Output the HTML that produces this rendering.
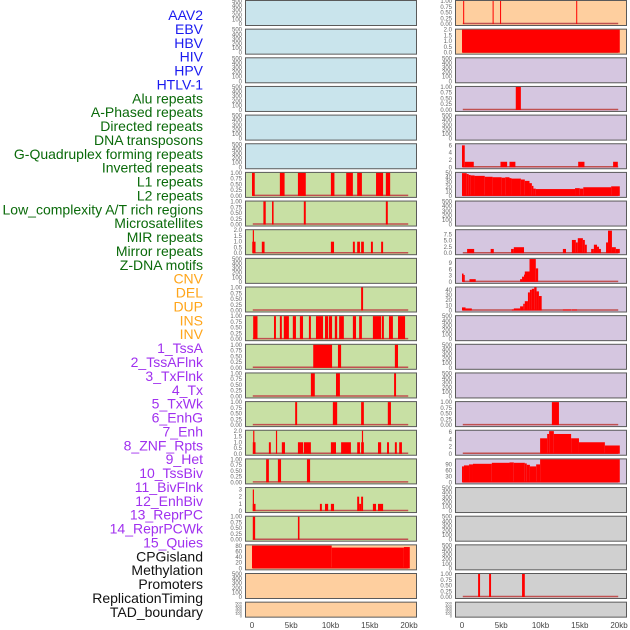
<!DOCTYPE html>
<html><head><meta charset="utf-8">
<style>
html,body{margin:0;padding:0;background:#fff;width:630px;height:630px;overflow:hidden}
svg{display:block;font-family:"Liberation Sans",sans-serif}
</style></head>
<body>
<svg id="chart" width="630" height="630" viewBox="0 0 630 630"></svg>
<script>
const trackLabels = ["AAV2","EBV","HBV","HIV","HPV","HTLV-1","Alu repeats","A-Phased repeats","Directed repeats","DNA transposons","G-Quadruplex forming repeats","Inverted repeats","L1 repeats","L2 repeats","Low_complexity A/T rich regions","Microsatellites","MIR repeats","Mirror repeats","Z-DNA motifs","CNV","DEL","DUP","INS","INV","1_TssA","2_TssAFlnk","3_TxFlnk","4_Tx","5_TxWk","6_EnhG","7_Enh","8_ZNF_Rpts","9_Het","10_TssBiv","11_BivFlnk","12_EnhBiv","13_ReprPC","14_ReprPCWk","15_Quies","CPGisland","Methylation","Promoters","ReplicationTiming","TAD_boundary"];
const labelGroups = ["virus","virus","virus","virus","virus","virus","repeat","repeat","repeat","repeat","repeat","repeat","repeat","repeat","repeat","repeat","repeat","repeat","repeat","sv","sv","sv","sv","sv","chrom","chrom","chrom","chrom","chrom","chrom","chrom","chrom","chrom","chrom","chrom","chrom","chrom","chrom","chrom","other","other","other","other","other"];
const leftKinds = ["virus","virus","virus","virus","virus","virus","repeat","repeat","repeat","repeat","repeat","repeat","repeat","repeat","repeat","repeat","repeat","repeat","repeat","other","other","other"];
const rightKinds = ["sv","sv","chrom","chrom","chrom","chrom","chrom","chrom","chrom","chrom","chrom","chrom","chrom","chrom","chrom","chrom","chrom","other2","other2","other2","other2","other2"];
const leftMax = [500,500,500,500,500,500,1,1,2,500,1,1,1,1,1,2,1,3.2,1,82,500,500];
const rightMax = [1,2,500,1,500,6.3,50.5,500,9.2,11.1,44.5,500,500,500,1,6.4,115,500,500,500,1,500];
const leftSegs = [
 [],[],[],[],[],[],
 [[0,0.35,1],[3.55,4.15,1],[5.85,6.85,1],[10.05,10.5,1],[12,12.85,1],[13.4,14,1],[15.8,16.7,1],[17.05,17.6,1]],
 [[1.45,1.75,1],[2.55,2.75,1],[6.6,6.85,1],[17.05,17.3,1]],
 [[0.03,0.45,1],[0.1,0.25,2],[1.25,1.6,1],[10.05,10.45,1],[12.85,13.1,1],[13.4,13.75,1],[13.9,14.25,1],[15.15,15.4,1],[16.45,16.7,1]],
 [],
 [[13.9,14.15,1]],
 [[0.15,0.7,1],[2.8,3.05,1],[3.55,3.8,1],[4.05,4.7,1],[5.2,5.6,1],[6.1,6.5,1],[7.25,7.5,1],[8.15,9.05,1],[9.3,9.7,1],[9.8,10.2,1],[10.55,10.85,1],[11.1,11.7,1],[12.85,13.25,1],[13.65,14,1],[15.4,16.45,1],[16.55,16.8,1],[17.45,17.95,1],[18.6,19.5,1]],
 [[7.8,10.2,1],[10.95,11.35,1],[18.2,18.6,1]],
 [[7.5,8.0,1],[10.7,11.2,1],[18.1,18.35,1]],
 [[5.5,5.75,1],[10.3,10.85,1],[13.9,14.25,1],[17.3,17.7,1]],
 [[0.1,0.45,1],[0.15,0.3,2],[2.15,2.4,1],[3.05,3.2,2],[3.8,4.2,1],[5.85,6.5,1],[6.6,7.5,1],[10.05,10.7,1],[11.35,12.6,1],[13.4,13.75,1],[13.9,14.25,1],[14.0,14.15,2],[16.05,16.45,1],[17.2,17.45,1],[18.2,18.45,1],[18.75,19.1,1]],
 [[1.8,2.15,1],[3.3,3.7,1],[7.0,7.4,1]],
 [[0.1,0.45,1],[0.1,0.25,3],[8.65,8.9,1],[9.3,9.7,1],[10.05,10.45,1],[13.4,13.65,2],[13.65,13.9,1],[13.9,14.15,2],[15.4,15.8,1],[16.05,16.7,1]],
 [[0.1,0.4,1],[5.85,6.05,1]],
 [[0,10.15,81],[10.15,19.35,74],[19.35,20.1,76]],
 [],[]
];
const rightSegs = [
 [[0.15,0.25,1],[3.9,4.0,1],[4.85,4.95,1],[14.55,14.65,1]],
 [[0,20.1,2]],
 [],
 [[6.85,7.5,1]],
 [],
 [[0,0.35,6],[0.35,1.5,1.5],[4.9,5.75,1.5],[6.05,6.8,1.5],[14.8,15.6,1.5],[19.25,19.85,1.5]],
 [[0,0.6,50],[0.6,0.85,48],[0.85,1.1,46],[1.1,1.6,45],[1.6,2.9,44],[2.9,3.9,42],[3.9,5.05,41],[5.05,5.5,40],[5.5,6.05,41],[6.05,6.3,39],[6.3,7.5,38],[7.5,8.0,36],[8.0,8.6,33],[8.6,8.9,28],[8.9,9.1,22],[9.1,9.4,16],[9.4,14.4,15],[14.4,15.0,17],[15.0,15.45,16],[15.45,19,19],[19,20.1,21]],
 [],
 [[0.65,1.55,1.7],[3.65,4.05,1.7],[6.25,6.6,1.7],[6.6,7.9,2.4],[12.85,13.25,1.7],[14.0,14.5,5.3],[14.5,14.75,4.3],[14.75,15.4,6],[15.4,15.65,5.3],[15.65,15.9,3.4],[16.45,16.8,1.7],[16.8,17.2,3.4],[17.2,17.45,2.6],[17.45,17.7,1.7],[18.35,18.6,4.3],[18.6,19.1,9],[19.1,19.6,2.4],[19.6,20.1,1.7]],
 [[0,0.2,4],[0.2,0.35,3.3],[0.95,1.75,1.3],[7.4,7.65,1.3],[7.65,7.9,2.5],[7.9,8.0,3.5],[8.0,8.6,5],[8.6,9.4,11],[9.4,9.7,6.5]],
 [[0,0.45,6],[0.45,1.25,4],[6.35,6.6,2],[6.6,7.4,4],[7.4,7.8,8],[7.8,8.0,13],[8.0,8.4,18],[8.4,8.65,35],[8.65,8.9,40],[8.9,9.2,42],[9.2,9.5,45],[9.5,9.8,37],[9.8,10.15,28],[12.85,13.9,2],[14.0,14.65,2]],
 [],[],[],
 [[11.45,12.35,1]],
 [[9.95,10.85,4.3],[10.85,11.1,5.5],[11.1,11.7,6.3],[11.7,13.9,5.5],[13.9,14.9,4.3],[14.9,18.2,3.2],[18.2,20.1,2.3]],
 [[0,0.25,80],[0.25,0.9,85],[0.9,1.4,90],[1.4,3.8,93],[3.8,6.05,98],[6.05,6.6,100],[6.6,8.0,98],[8.0,8.25,95],[8.25,8.65,88],[8.65,9.45,80],[9.45,9.95,90],[9.95,20.1,115]],
 [],[],[],
 [[2.05,2.3,1],[3.45,3.7,1],[7.65,8.0,1]],
 []
];
const xTicks = [0,5,10,15,20];
const xTickLabels = ["0","5kb","10kb","15kb","20kb"];

const NS="http://www.w3.org/2000/svg";
const svg=document.getElementById('chart');
const colors={virus:"#c9e4ec",repeat:"#c8e0a4",other:"#fecf9f",sv:"#fecf9f",chrom:"#d5c6e0",other2:"#d0d0d0"};
const labelColors={virus:"#1a1af0",repeat:"#0a6a0a",sv:"#ffa51a",chrom:"#a030ef",other:"#111"};
function mk(tag,attrs){const e=document.createElementNS(NS,tag);for(const k in attrs)e.setAttribute(k,attrs[k]);svg.appendChild(e);return e;}
function rowTop(i){return i*28.65;}
function rowH(i){return i===21?15:25;}
function xScale(col,kb){return (col===0?252:462)+kb/20*157;}
function tickSet(max){
  if(max>=400) return [0,100,200,300,400,500];
  if(max===1) return [0,0.25,0.5,0.75,1];
  if(max===2) return [0,0.5,1,1.5,2];
  if(max>3&&max<4) return [0,1,2,3];
  if(max>6&&max<7) return [0,2,4,6];
  if(max>9&&max<10) return [0,2.5,5,7.5];
  if(max>11&&max<12) return [0,3,6,9];
  if(max>44&&max<45) return [0,10,20,30,40];
  if(max>50&&max<51) return [0,10,20,30,40,50];
  if(max>80&&max<90) return [0,20,40,60,80];
  if(max>100) return [0,30,60,90];
  return [0,max];
}
function fmt(max,t){
  if(max===1) return t.toFixed(2);
  if(max===2||(max>9&&max<10)) return t.toFixed(1);
  return String(t);
}
// labels
trackLabels.forEach((t,i)=>{
  const e=mk('text',{x:203,y:20+i*13.88,'text-anchor':'end','font-size':14,fill:labelColors[labelGroups[i]]});
  e.textContent=t;
  
  
});
function drawPanel(col,i,kind,max,segs){
  const top=rowTop(i),h=rowH(i),x0=col===0?245:455,w=171;
  const r=mk('rect',{x:x0+0.5,y:top+0.5,width:w,height:h,fill:colors[kind],stroke:'#5a5a5a','stroke-width':1});
  
  
  const bot=top+h-0.5, ih=h-2;
  const ys=v=>bot-0.5-v/max*ih;
  tickSet(max).forEach(t=>{
    const tx=mk('text',{x:x0-3,y:ys(t)+2,'text-anchor':'end','font-size':i===21?4:6,fill:'#666'});
    tx.textContent=fmt(max,t);
    
    
  });
  if(segs.length){
    const bl=mk('line',{x1:xScale(col,0.1),x2:xScale(col,19.9),y1:bot-1,y2:bot-1,stroke:'#c05050','stroke-width':1.5});
    
    
  }
  segs.forEach(s=>{
    const xa=xScale(col,s[0]),xb=xScale(col,s[1]);
    const b=mk('rect',{x:xa,y:ys(s[2]),width:Math.max(1,xb-xa),height:bot-0.5-ys(s[2]),fill:'#ff0000'});
    
    
  });
}
for(let i=0;i<22;i++){
  drawPanel(0,i,leftKinds[i],leftMax[i],leftSegs[i]);
  drawPanel(1,i,rightKinds[i],rightMax[i],rightSegs[i]);
}
[0,1].forEach(col=>{
  xTicks.forEach((t,k)=>{
    const e=mk('text',{x:xScale(col,t),y:628,'text-anchor':'middle','font-size':8,fill:'#444'});
    e.textContent=xTickLabels[k];
    
    
  });
});
</script>
</body></html>
